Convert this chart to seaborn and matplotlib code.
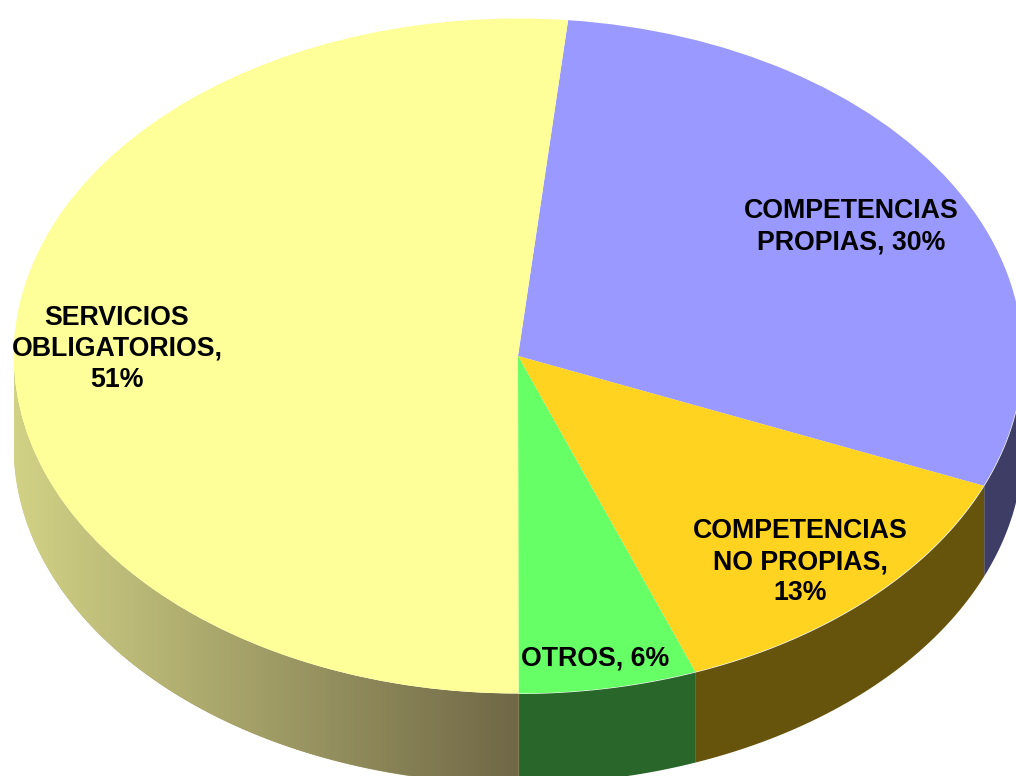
import numpy as np
import matplotlib.pyplot as plt
import seaborn as sns

# ------------------ data ------------------
labels = ['COMPETENCIAS\nPROPIAS, 30%', 'COMPETENCIAS\nNO PROPIAS,\n13%', 'OTROS, 6%', 'SERVICIOS\nOBLIGATORIOS,\n51%']
shares = [29.7, 13.0, 5.7, 51.6]  # a bit finer than the printed labels

# ------------------ style ------------------
sns.set_theme(style='white')
plt.rcParams['font.family'] = ['Liberation Sans', 'DejaVu Sans']

top_colors = ['#9999FF', '#FFD320', '#66FF66', '#FFFF99']
side_colors = ['#3D3D66', '#66540D', '#296629', None]
side_blend = ['#D2D286', '#6F6746']  # left to right, only the big slice has a gradient

W, H = 1016, 776
CX, CY = 518, 356   # pie centre in pixels
RX, RY = 504.5, 337.5
DEPTH = 90 / RY
START = 84.3

def to_data(px, py):
    return (px - CX) / RX, (CY - py) / RY

fig, ax = plt.subplots(figsize=(W / 100, H / 100), dpi=100)
fig.subplots_adjust(0, 0, 1, 1)

# ------------------ side wall ------------------
edges = START - np.cumsum([0] + shares) * 3.6

for i in range(len(shares)):
    a0, a1 = edges[i], edges[i + 1]
    # only the front half of the rim can be seen
    lo = max(a1, -180)
    hi = min(a0, 0)
    if lo >= hi:
        continue
    theta = np.radians(np.linspace(hi, lo, 400))
    x = np.cos(theta)
    y = np.sin(theta)
    if side_colors[i] is not None:
        ax.fill_between(x, y, y - DEPTH, color=side_colors[i], lw=0)
    else:
        # gradient runs in x: an image clipped to the wall shape
        base = ax.fill_between(x, y, y - DEPTH, color=sns.blend_palette(side_blend, 3)[1], lw=0, zorder=0.4)
        im = ax.imshow(np.linspace(0, 1, 512)[None, :], cmap=sns.blend_palette(side_blend, as_cmap=True),
                       extent=(x.min(), x.max(), y.min() - DEPTH, y.max()), aspect='auto', zorder=0.5)
        im.set_clip_path(base.get_paths()[0], transform=ax.transData)

# ------------------ top of the pie ------------------
ax.pie(shares, colors=top_colors, startangle=START, counterclock=False, radius=1,
       wedgeprops={'linewidth': 0})

# pie forces equal aspect, the tilt comes from stretching the axes
ax.set_aspect('auto')
ax.set_xlim(to_data(0, 0)[0], to_data(W, 0)[0])
ax.set_ylim(to_data(0, H)[1], to_data(0, 0)[1])

# ------------------ labels ------------------
label_px = [(851, 227), (800, 562), (595, 659), (117, 349)]
for txt, (px, py) in zip(labels, label_px):
    lx, ly = to_data(px, py)
    ax.text(lx, ly, txt, ha='center', va='center', ma='center', fontsize=19.3,
            fontweight='bold', color='black', linespacing=1.26)

fig.savefig('out.png', dpi=100, facecolor='white')
